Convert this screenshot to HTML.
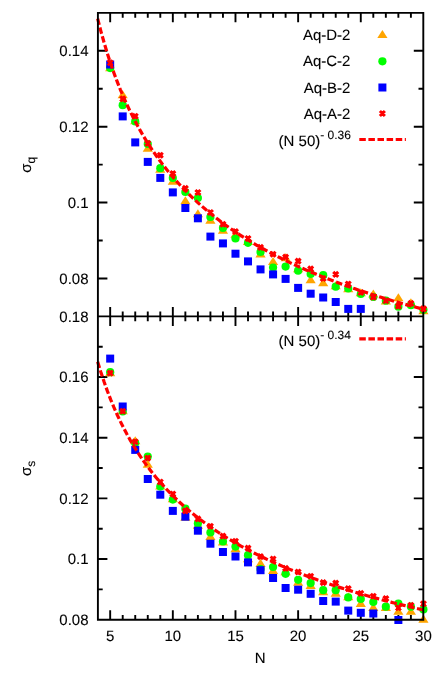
<!DOCTYPE html>
<html><head><meta charset="utf-8"><title>chart</title>
<style>html,body{margin:0;padding:0;background:#fff}svg{display:block;will-change:transform}text{font-family:"Liberation Sans",sans-serif;fill:#000;stroke:#000;stroke-width:.1px;text-rendering:geometricPrecision}</style></head><body>
<svg width="442" height="681" viewBox="0 0 442 681">
<rect width="442" height="681" fill="#fff"/>
<path d="M110.18 12.86v9.5M110.18 306.9v19.0M110.18 619.7v-9.5M122.71 12.86v4.8M122.71 311.59999999999997v9.6M122.71 619.7v-4.8M135.24 12.86v4.8M135.24 311.59999999999997v9.6M135.24 619.7v-4.8M147.77 12.86v4.8M147.77 311.59999999999997v9.6M147.77 619.7v-4.8M160.30 12.86v4.8M160.30 311.59999999999997v9.6M160.30 619.7v-4.8M172.83 12.86v9.5M172.83 306.9v19.0M172.83 619.7v-9.5M185.36 12.86v4.8M185.36 311.59999999999997v9.6M185.36 619.7v-4.8M197.89 12.86v4.8M197.89 311.59999999999997v9.6M197.89 619.7v-4.8M210.42 12.86v4.8M210.42 311.59999999999997v9.6M210.42 619.7v-4.8M222.95 12.86v4.8M222.95 311.59999999999997v9.6M222.95 619.7v-4.8M235.48 12.86v9.5M235.48 306.9v19.0M235.48 619.7v-9.5M248.01 12.86v4.8M248.01 311.59999999999997v9.6M248.01 619.7v-4.8M260.54 12.86v4.8M260.54 311.59999999999997v9.6M260.54 619.7v-4.8M273.07 12.86v4.8M273.07 311.59999999999997v9.6M273.07 619.7v-4.8M285.60 12.86v4.8M285.60 311.59999999999997v9.6M285.60 619.7v-4.8M298.13 12.86v9.5M298.13 306.9v19.0M298.13 619.7v-9.5M310.66 12.86v4.8M310.66 311.59999999999997v9.6M310.66 619.7v-4.8M323.19 12.86v4.8M323.19 311.59999999999997v9.6M323.19 619.7v-4.8M335.72 12.86v4.8M335.72 311.59999999999997v9.6M335.72 619.7v-4.8M348.25 12.86v4.8M348.25 311.59999999999997v9.6M348.25 619.7v-4.8M360.78 12.86v9.5M360.78 306.9v19.0M360.78 619.7v-9.5M373.31 12.86v4.8M373.31 311.59999999999997v9.6M373.31 619.7v-4.8M385.84 12.86v4.8M385.84 311.59999999999997v9.6M385.84 619.7v-4.8M398.37 12.86v4.8M398.37 311.59999999999997v9.6M398.37 619.7v-4.8M410.90 12.86v4.8M410.90 311.59999999999997v9.6M410.90 619.7v-4.8M97.9 278.46h9.5M423.3 278.46h-9.5M97.9 240.51h4.8M423.3 240.51h-4.8M97.9 202.57h9.5M423.3 202.57h-9.5M97.9 164.63h4.8M423.3 164.63h-4.8M97.9 126.69h9.5M423.3 126.69h-9.5M97.9 88.74h4.8M423.3 88.74h-4.8M97.9 50.80h9.5M423.3 50.80h-9.5M97.9 589.37h4.8M423.3 589.37h-4.8M97.9 559.04h9.5M423.3 559.04h-9.5M97.9 528.71h4.8M423.3 528.71h-4.8M97.9 498.38h9.5M423.3 498.38h-9.5M97.9 468.05h4.8M423.3 468.05h-4.8M97.9 437.72h9.5M423.3 437.72h-9.5M97.9 407.39h4.8M423.3 407.39h-4.8M97.9 377.06h9.5M423.3 377.06h-9.5M97.9 346.73h4.8M423.3 346.73h-4.8" stroke="#000" stroke-width="1.9" fill="none"/>
<path d="M110.18 63.20L115.28 71.30H105.08Z" fill="#ffa500"/>
<path d="M122.71 90.20L127.81 98.30H117.61Z" fill="#ffa500"/>
<path d="M135.24 116.20L140.34 124.30H130.14Z" fill="#ffa500"/>
<path d="M147.77 143.70L152.87 151.80H142.67Z" fill="#ffa500"/>
<path d="M160.30 164.60L165.40 172.70H155.20Z" fill="#ffa500"/>
<path d="M172.83 176.60L177.93 184.70H167.73Z" fill="#ffa500"/>
<path d="M185.36 196.20L190.46 204.30H180.26Z" fill="#ffa500"/>
<path d="M197.89 209.20L202.99 217.30H192.79Z" fill="#ffa500"/>
<path d="M210.42 215.60L215.52 223.70H205.32Z" fill="#ffa500"/>
<path d="M222.95 225.60L228.05 233.70H217.85Z" fill="#ffa500"/>
<path d="M235.48 229.70L240.58 237.80H230.38Z" fill="#ffa500"/>
<path d="M248.01 236.80L253.11 244.90H242.91Z" fill="#ffa500"/>
<path d="M260.54 249.40L265.64 257.50H255.44Z" fill="#ffa500"/>
<path d="M273.07 256.90L278.17 265.00H267.97Z" fill="#ffa500"/>
<path d="M285.60 253.20L290.70 261.30H280.50Z" fill="#ffa500"/>
<path d="M298.13 264.20L303.23 272.30H293.03Z" fill="#ffa500"/>
<path d="M310.66 275.20L315.76 283.30H305.56Z" fill="#ffa500"/>
<path d="M323.19 278.20L328.29 286.30H318.09Z" fill="#ffa500"/>
<path d="M335.72 281.20L340.82 289.30H330.62Z" fill="#ffa500"/>
<path d="M348.25 284.20L353.35 292.30H343.15Z" fill="#ffa500"/>
<path d="M360.78 288.20L365.88 296.30H355.68Z" fill="#ffa500"/>
<path d="M373.31 289.40L378.41 297.50H368.21Z" fill="#ffa500"/>
<path d="M385.84 296.50L390.94 304.60H380.74Z" fill="#ffa500"/>
<path d="M398.37 293.20L403.47 301.30H393.27Z" fill="#ffa500"/>
<path d="M410.90 298.20L416.00 306.30H405.80Z" fill="#ffa500"/>
<path d="M423.43 306.20L428.53 314.30H418.33Z" fill="#ffa500"/>
<circle cx="110.18" cy="68.10" r="4.1" fill="#00ff00"/>
<circle cx="122.71" cy="105.20" r="4.1" fill="#00ff00"/>
<circle cx="135.24" cy="121.40" r="4.1" fill="#00ff00"/>
<circle cx="147.77" cy="144.00" r="4.1" fill="#00ff00"/>
<circle cx="160.30" cy="168.20" r="4.1" fill="#00ff00"/>
<circle cx="172.83" cy="178.00" r="4.1" fill="#00ff00"/>
<circle cx="185.36" cy="192.00" r="4.1" fill="#00ff00"/>
<circle cx="197.89" cy="198.00" r="4.1" fill="#00ff00"/>
<circle cx="210.42" cy="217.00" r="4.1" fill="#00ff00"/>
<circle cx="222.95" cy="228.00" r="4.1" fill="#00ff00"/>
<circle cx="235.48" cy="238.50" r="4.1" fill="#00ff00"/>
<circle cx="248.01" cy="242.80" r="4.1" fill="#00ff00"/>
<circle cx="260.54" cy="252.00" r="4.1" fill="#00ff00"/>
<circle cx="273.07" cy="267.60" r="4.1" fill="#00ff00"/>
<circle cx="285.60" cy="266.60" r="4.1" fill="#00ff00"/>
<circle cx="298.13" cy="270.70" r="4.1" fill="#00ff00"/>
<circle cx="310.66" cy="274.00" r="4.1" fill="#00ff00"/>
<circle cx="323.19" cy="275.20" r="4.1" fill="#00ff00"/>
<circle cx="335.72" cy="286.70" r="4.1" fill="#00ff00"/>
<circle cx="348.25" cy="288.50" r="4.1" fill="#00ff00"/>
<circle cx="360.78" cy="294.00" r="4.1" fill="#00ff00"/>
<circle cx="373.31" cy="297.00" r="4.1" fill="#00ff00"/>
<circle cx="385.84" cy="300.70" r="4.1" fill="#00ff00"/>
<circle cx="398.37" cy="306.70" r="4.1" fill="#00ff00"/>
<circle cx="410.90" cy="305.20" r="4.1" fill="#00ff00"/>
<circle cx="423.43" cy="309.80" r="4.1" fill="#00ff00"/>
<rect x="106.18" y="60.50" width="8" height="8" fill="#0000ff"/>
<rect x="118.71" y="112.40" width="8" height="8" fill="#0000ff"/>
<rect x="131.24" y="138.40" width="8" height="8" fill="#0000ff"/>
<rect x="143.77" y="157.90" width="8" height="8" fill="#0000ff"/>
<rect x="156.30" y="173.90" width="8" height="8" fill="#0000ff"/>
<rect x="168.83" y="188.40" width="8" height="8" fill="#0000ff"/>
<rect x="181.36" y="204.00" width="8" height="8" fill="#0000ff"/>
<rect x="193.89" y="214.30" width="8" height="8" fill="#0000ff"/>
<rect x="206.42" y="232.60" width="8" height="8" fill="#0000ff"/>
<rect x="218.95" y="239.40" width="8" height="8" fill="#0000ff"/>
<rect x="231.48" y="249.70" width="8" height="8" fill="#0000ff"/>
<rect x="244.01" y="257.40" width="8" height="8" fill="#0000ff"/>
<rect x="256.54" y="265.40" width="8" height="8" fill="#0000ff"/>
<rect x="269.07" y="270.40" width="8" height="8" fill="#0000ff"/>
<rect x="281.60" y="274.90" width="8" height="8" fill="#0000ff"/>
<rect x="294.13" y="283.90" width="8" height="8" fill="#0000ff"/>
<rect x="306.66" y="289.70" width="8" height="8" fill="#0000ff"/>
<rect x="319.19" y="293.50" width="8" height="8" fill="#0000ff"/>
<rect x="331.72" y="298.00" width="8" height="8" fill="#0000ff"/>
<rect x="344.25" y="304.90" width="8" height="8" fill="#0000ff"/>
<rect x="356.78" y="304.90" width="8" height="8" fill="#0000ff"/>
<path d="M107.68 62.70h5.0M110.18 60.20v5.0M107.68 60.20l5.0 5.0M107.68 65.20l5.0 -5.0" stroke="#ff0000" stroke-width="3" fill="none"/>
<path d="M120.21 98.90h5.0M122.71 96.40v5.0M120.21 96.40l5.0 5.0M120.21 101.40l5.0 -5.0" stroke="#ff0000" stroke-width="3" fill="none"/>
<path d="M132.74 116.20h5.0M135.24 113.70v5.0M132.74 113.70l5.0 5.0M132.74 118.70l5.0 -5.0" stroke="#ff0000" stroke-width="3" fill="none"/>
<path d="M145.27 143.40h5.0M147.77 140.90v5.0M145.27 140.90l5.0 5.0M145.27 145.90l5.0 -5.0" stroke="#ff0000" stroke-width="3" fill="none"/>
<path d="M157.80 155.30h5.0M160.30 152.80v5.0M157.80 152.80l5.0 5.0M157.80 157.80l5.0 -5.0" stroke="#ff0000" stroke-width="3" fill="none"/>
<path d="M170.33 173.60h5.0M172.83 171.10v5.0M170.33 171.10l5.0 5.0M170.33 176.10l5.0 -5.0" stroke="#ff0000" stroke-width="3" fill="none"/>
<path d="M182.86 188.40h5.0M185.36 185.90v5.0M182.86 185.90l5.0 5.0M182.86 190.90l5.0 -5.0" stroke="#ff0000" stroke-width="3" fill="none"/>
<path d="M195.39 192.50h5.0M197.89 190.00v5.0M195.39 190.00l5.0 5.0M195.39 195.00l5.0 -5.0" stroke="#ff0000" stroke-width="3" fill="none"/>
<path d="M207.92 212.50h5.0M210.42 210.00v5.0M207.92 210.00l5.0 5.0M207.92 215.00l5.0 -5.0" stroke="#ff0000" stroke-width="3" fill="none"/>
<path d="M220.45 224.30h5.0M222.95 221.80v5.0M220.45 221.80l5.0 5.0M220.45 226.80l5.0 -5.0" stroke="#ff0000" stroke-width="3" fill="none"/>
<path d="M232.98 231.60h5.0M235.48 229.10v5.0M232.98 229.10l5.0 5.0M232.98 234.10l5.0 -5.0" stroke="#ff0000" stroke-width="3" fill="none"/>
<path d="M245.51 238.50h5.0M248.01 236.00v5.0M245.51 236.00l5.0 5.0M245.51 241.00l5.0 -5.0" stroke="#ff0000" stroke-width="3" fill="none"/>
<path d="M258.04 247.40h5.0M260.54 244.90v5.0M258.04 244.90l5.0 5.0M258.04 249.90l5.0 -5.0" stroke="#ff0000" stroke-width="3" fill="none"/>
<path d="M270.57 254.20h5.0M273.07 251.70v5.0M270.57 251.70l5.0 5.0M270.57 256.70l5.0 -5.0" stroke="#ff0000" stroke-width="3" fill="none"/>
<path d="M283.10 257.10h5.0M285.60 254.60v5.0M283.10 254.60l5.0 5.0M283.10 259.60l5.0 -5.0" stroke="#ff0000" stroke-width="3" fill="none"/>
<path d="M295.63 261.10h5.0M298.13 258.60v5.0M295.63 258.60l5.0 5.0M295.63 263.60l5.0 -5.0" stroke="#ff0000" stroke-width="3" fill="none"/>
<path d="M308.16 268.90h5.0M310.66 266.40v5.0M308.16 266.40l5.0 5.0M308.16 271.40l5.0 -5.0" stroke="#ff0000" stroke-width="3" fill="none"/>
<path d="M320.69 278.50h5.0M323.19 276.00v5.0M320.69 276.00l5.0 5.0M320.69 281.00l5.0 -5.0" stroke="#ff0000" stroke-width="3" fill="none"/>
<path d="M333.22 274.40h5.0M335.72 271.90v5.0M333.22 271.90l5.0 5.0M333.22 276.90l5.0 -5.0" stroke="#ff0000" stroke-width="3" fill="none"/>
<path d="M345.75 284.00h5.0M348.25 281.50v5.0M345.75 281.50l5.0 5.0M345.75 286.50l5.0 -5.0" stroke="#ff0000" stroke-width="3" fill="none"/>
<path d="M358.28 292.50h5.0M360.78 290.00v5.0M358.28 290.00l5.0 5.0M358.28 295.00l5.0 -5.0" stroke="#ff0000" stroke-width="3" fill="none"/>
<path d="M370.81 297.20h5.0M373.31 294.70v5.0M370.81 294.70l5.0 5.0M370.81 299.70l5.0 -5.0" stroke="#ff0000" stroke-width="3" fill="none"/>
<path d="M383.34 300.70h5.0M385.84 298.20v5.0M383.34 298.20l5.0 5.0M383.34 303.20l5.0 -5.0" stroke="#ff0000" stroke-width="3" fill="none"/>
<path d="M395.87 306.20h5.0M398.37 303.70v5.0M395.87 303.70l5.0 5.0M395.87 308.70l5.0 -5.0" stroke="#ff0000" stroke-width="3" fill="none"/>
<path d="M408.40 303.40h5.0M410.90 300.90v5.0M408.40 300.90l5.0 5.0M408.40 305.90l5.0 -5.0" stroke="#ff0000" stroke-width="3" fill="none"/>
<path d="M420.93 308.90h5.0M423.43 306.40v5.0M420.93 306.40l5.0 5.0M420.93 311.40l5.0 -5.0" stroke="#ff0000" stroke-width="3" fill="none"/>
<polyline points="97.65,18.68 100.91,31.30 104.17,42.93 107.42,53.67 110.68,63.65 113.94,72.95 117.20,81.65 120.45,89.82 123.71,97.50 126.97,104.75 130.23,111.60 133.49,118.10 136.74,124.27 140.00,130.15 143.26,135.74 146.52,141.09 149.77,146.20 153.03,151.09 156.29,155.78 159.55,160.29 162.81,164.62 166.06,168.78 169.32,172.80 172.58,176.67 175.84,180.40 179.09,184.01 182.35,187.50 185.61,190.88 188.87,194.15 192.13,197.31 195.38,200.39 198.64,203.37 201.90,206.27 205.16,209.08 208.42,211.82 211.67,214.48 214.93,217.07 218.19,219.59 221.45,222.05 224.70,224.45 227.96,226.79 231.22,229.07 234.48,231.29 237.74,233.47 240.99,235.59 244.25,237.67 247.51,239.70 250.77,241.68 254.02,243.63 257.28,245.53 260.54,247.39 263.80,249.21 267.06,251.00 270.31,252.75 273.57,254.47 276.83,256.15 280.09,257.80 283.34,259.42 286.60,261.01 289.86,262.57 293.12,264.10 296.38,265.61 299.63,267.08 302.89,268.54 306.15,269.96 309.41,271.37 312.66,272.75 315.92,274.10 319.18,275.44 322.44,276.75 325.70,278.04 328.95,279.31 332.21,280.57 335.47,281.80 338.73,283.01 341.99,284.21 345.24,285.38 348.50,286.54 351.76,287.69 355.02,288.81 358.27,289.92 361.53,291.02 364.79,292.10 368.05,293.16 371.31,294.21 374.56,295.25 377.82,296.27 381.08,297.27 384.34,298.27 387.59,299.25 390.85,300.22 394.11,301.18 397.37,302.12 400.63,303.05 403.88,303.97 407.14,304.88 410.40,305.78 413.66,306.67 416.91,307.55 420.17,308.41 423.43,309.27" fill="none" stroke="#f00" stroke-width="3.2" stroke-dasharray="6.5 2.6"/>
<path d="M110.18 368.20L115.28 376.30H105.08Z" fill="#ffa500"/>
<path d="M122.71 406.20L127.81 414.30H117.61Z" fill="#ffa500"/>
<path d="M135.24 436.20L140.34 444.30H130.14Z" fill="#ffa500"/>
<path d="M147.77 459.70L152.87 467.80H142.67Z" fill="#ffa500"/>
<path d="M160.30 481.50L165.40 489.60H155.20Z" fill="#ffa500"/>
<path d="M172.83 494.20L177.93 502.30H167.73Z" fill="#ffa500"/>
<path d="M185.36 512.60L190.46 520.70H180.26Z" fill="#ffa500"/>
<path d="M197.89 520.70L202.99 528.80H192.79Z" fill="#ffa500"/>
<path d="M210.42 531.90L215.52 540.00H205.32Z" fill="#ffa500"/>
<path d="M222.95 537.40L228.05 545.50H217.85Z" fill="#ffa500"/>
<path d="M235.48 544.20L240.58 552.30H230.38Z" fill="#ffa500"/>
<path d="M248.01 554.20L253.11 562.30H242.91Z" fill="#ffa500"/>
<path d="M260.54 558.80L265.64 566.90H255.44Z" fill="#ffa500"/>
<path d="M273.07 566.00L278.17 574.10H267.97Z" fill="#ffa500"/>
<path d="M285.60 567.20L290.70 575.30H280.50Z" fill="#ffa500"/>
<path d="M298.13 577.70L303.23 585.80H293.03Z" fill="#ffa500"/>
<path d="M310.66 580.80L315.76 588.90H305.56Z" fill="#ffa500"/>
<path d="M323.19 587.10L328.29 595.20H318.09Z" fill="#ffa500"/>
<path d="M335.72 588.60L340.82 596.70H330.62Z" fill="#ffa500"/>
<path d="M348.25 592.20L353.35 600.30H343.15Z" fill="#ffa500"/>
<path d="M360.78 598.80L365.88 606.90H355.68Z" fill="#ffa500"/>
<path d="M373.31 603.00L378.41 611.10H368.21Z" fill="#ffa500"/>
<path d="M385.84 603.00L390.94 611.10H380.74Z" fill="#ffa500"/>
<path d="M398.37 606.70L403.47 614.80H393.27Z" fill="#ffa500"/>
<path d="M410.90 606.70L416.00 614.80H405.80Z" fill="#ffa500"/>
<path d="M423.43 614.60L428.53 622.70H418.33Z" fill="#ffa500"/>
<circle cx="110.18" cy="372.20" r="4.1" fill="#00ff00"/>
<circle cx="122.71" cy="411.50" r="4.1" fill="#00ff00"/>
<circle cx="135.24" cy="443.00" r="4.1" fill="#00ff00"/>
<circle cx="147.77" cy="456.60" r="4.1" fill="#00ff00"/>
<circle cx="160.30" cy="486.60" r="4.1" fill="#00ff00"/>
<circle cx="172.83" cy="499.60" r="4.1" fill="#00ff00"/>
<circle cx="185.36" cy="508.70" r="4.1" fill="#00ff00"/>
<circle cx="197.89" cy="523.40" r="4.1" fill="#00ff00"/>
<circle cx="210.42" cy="532.50" r="4.1" fill="#00ff00"/>
<circle cx="222.95" cy="541.50" r="4.1" fill="#00ff00"/>
<circle cx="235.48" cy="546.60" r="4.1" fill="#00ff00"/>
<circle cx="248.01" cy="555.20" r="4.1" fill="#00ff00"/>
<circle cx="260.54" cy="569.00" r="4.1" fill="#00ff00"/>
<circle cx="273.07" cy="567.00" r="4.1" fill="#00ff00"/>
<circle cx="285.60" cy="573.80" r="4.1" fill="#00ff00"/>
<circle cx="298.13" cy="579.80" r="4.1" fill="#00ff00"/>
<circle cx="310.66" cy="583.10" r="4.1" fill="#00ff00"/>
<circle cx="323.19" cy="590.20" r="4.1" fill="#00ff00"/>
<circle cx="335.72" cy="590.20" r="4.1" fill="#00ff00"/>
<circle cx="348.25" cy="597.40" r="4.1" fill="#00ff00"/>
<circle cx="360.78" cy="599.00" r="4.1" fill="#00ff00"/>
<circle cx="373.31" cy="602.00" r="4.1" fill="#00ff00"/>
<circle cx="385.84" cy="606.70" r="4.1" fill="#00ff00"/>
<circle cx="398.37" cy="603.70" r="4.1" fill="#00ff00"/>
<circle cx="410.90" cy="606.70" r="4.1" fill="#00ff00"/>
<circle cx="423.43" cy="609.40" r="4.1" fill="#00ff00"/>
<rect x="106.18" y="354.60" width="8" height="8" fill="#0000ff"/>
<rect x="118.71" y="402.50" width="8" height="8" fill="#0000ff"/>
<rect x="131.24" y="445.90" width="8" height="8" fill="#0000ff"/>
<rect x="143.77" y="475.00" width="8" height="8" fill="#0000ff"/>
<rect x="156.30" y="490.70" width="8" height="8" fill="#0000ff"/>
<rect x="168.83" y="506.90" width="8" height="8" fill="#0000ff"/>
<rect x="181.36" y="512.70" width="8" height="8" fill="#0000ff"/>
<rect x="193.89" y="526.70" width="8" height="8" fill="#0000ff"/>
<rect x="206.42" y="539.70" width="8" height="8" fill="#0000ff"/>
<rect x="218.95" y="548.00" width="8" height="8" fill="#0000ff"/>
<rect x="231.48" y="552.50" width="8" height="8" fill="#0000ff"/>
<rect x="244.01" y="558.40" width="8" height="8" fill="#0000ff"/>
<rect x="256.54" y="566.20" width="8" height="8" fill="#0000ff"/>
<rect x="269.07" y="574.00" width="8" height="8" fill="#0000ff"/>
<rect x="281.60" y="584.00" width="8" height="8" fill="#0000ff"/>
<rect x="294.13" y="585.70" width="8" height="8" fill="#0000ff"/>
<rect x="306.66" y="589.80" width="8" height="8" fill="#0000ff"/>
<rect x="319.19" y="597.00" width="8" height="8" fill="#0000ff"/>
<rect x="331.72" y="597.60" width="8" height="8" fill="#0000ff"/>
<rect x="344.25" y="606.60" width="8" height="8" fill="#0000ff"/>
<rect x="356.78" y="608.80" width="8" height="8" fill="#0000ff"/>
<rect x="369.31" y="609.50" width="8" height="8" fill="#0000ff"/>
<rect x="394.37" y="616.00" width="8" height="8" fill="#0000ff"/>
<path d="M107.68 373.10h5.0M110.18 370.60v5.0M107.68 370.60l5.0 5.0M107.68 375.60l5.0 -5.0" stroke="#ff0000" stroke-width="3" fill="none"/>
<path d="M120.21 411.20h5.0M122.71 408.70v5.0M120.21 408.70l5.0 5.0M120.21 413.70l5.0 -5.0" stroke="#ff0000" stroke-width="3" fill="none"/>
<path d="M132.74 441.70h5.0M135.24 439.20v5.0M132.74 439.20l5.0 5.0M132.74 444.20l5.0 -5.0" stroke="#ff0000" stroke-width="3" fill="none"/>
<path d="M145.27 458.10h5.0M147.77 455.60v5.0M145.27 455.60l5.0 5.0M145.27 460.60l5.0 -5.0" stroke="#ff0000" stroke-width="3" fill="none"/>
<path d="M157.80 482.00h5.0M160.30 479.50v5.0M157.80 479.50l5.0 5.0M157.80 484.50l5.0 -5.0" stroke="#ff0000" stroke-width="3" fill="none"/>
<path d="M170.33 494.00h5.0M172.83 491.50v5.0M170.33 491.50l5.0 5.0M170.33 496.50l5.0 -5.0" stroke="#ff0000" stroke-width="3" fill="none"/>
<path d="M182.86 510.90h5.0M185.36 508.40v5.0M182.86 508.40l5.0 5.0M182.86 513.40l5.0 -5.0" stroke="#ff0000" stroke-width="3" fill="none"/>
<path d="M195.39 518.90h5.0M197.89 516.40v5.0M195.39 516.40l5.0 5.0M195.39 521.40l5.0 -5.0" stroke="#ff0000" stroke-width="3" fill="none"/>
<path d="M207.92 526.20h5.0M210.42 523.70v5.0M207.92 523.70l5.0 5.0M207.92 528.70l5.0 -5.0" stroke="#ff0000" stroke-width="3" fill="none"/>
<path d="M220.45 536.10h5.0M222.95 533.60v5.0M220.45 533.60l5.0 5.0M220.45 538.60l5.0 -5.0" stroke="#ff0000" stroke-width="3" fill="none"/>
<path d="M232.98 541.30h5.0M235.48 538.80v5.0M232.98 538.80l5.0 5.0M232.98 543.80l5.0 -5.0" stroke="#ff0000" stroke-width="3" fill="none"/>
<path d="M245.51 548.10h5.0M248.01 545.60v5.0M245.51 545.60l5.0 5.0M245.51 550.60l5.0 -5.0" stroke="#ff0000" stroke-width="3" fill="none"/>
<path d="M258.04 556.60h5.0M260.54 554.10v5.0M258.04 554.10l5.0 5.0M258.04 559.10l5.0 -5.0" stroke="#ff0000" stroke-width="3" fill="none"/>
<path d="M270.57 559.00h5.0M273.07 556.50v5.0M270.57 556.50l5.0 5.0M270.57 561.50l5.0 -5.0" stroke="#ff0000" stroke-width="3" fill="none"/>
<path d="M283.10 568.40h5.0M285.60 565.90v5.0M283.10 565.90l5.0 5.0M283.10 570.90l5.0 -5.0" stroke="#ff0000" stroke-width="3" fill="none"/>
<path d="M295.63 572.00h5.0M298.13 569.50v5.0M295.63 569.50l5.0 5.0M295.63 574.50l5.0 -5.0" stroke="#ff0000" stroke-width="3" fill="none"/>
<path d="M308.16 576.20h5.0M310.66 573.70v5.0M308.16 573.70l5.0 5.0M308.16 578.70l5.0 -5.0" stroke="#ff0000" stroke-width="3" fill="none"/>
<path d="M320.69 582.60h5.0M323.19 580.10v5.0M320.69 580.10l5.0 5.0M320.69 585.10l5.0 -5.0" stroke="#ff0000" stroke-width="3" fill="none"/>
<path d="M333.22 583.10h5.0M335.72 580.60v5.0M333.22 580.60l5.0 5.0M333.22 585.60l5.0 -5.0" stroke="#ff0000" stroke-width="3" fill="none"/>
<path d="M345.75 588.60h5.0M348.25 586.10v5.0M345.75 586.10l5.0 5.0M345.75 591.10l5.0 -5.0" stroke="#ff0000" stroke-width="3" fill="none"/>
<path d="M358.28 593.40h5.0M360.78 590.90v5.0M358.28 590.90l5.0 5.0M358.28 595.90l5.0 -5.0" stroke="#ff0000" stroke-width="3" fill="none"/>
<path d="M370.81 596.20h5.0M373.31 593.70v5.0M370.81 593.70l5.0 5.0M370.81 598.70l5.0 -5.0" stroke="#ff0000" stroke-width="3" fill="none"/>
<path d="M383.34 598.60h5.0M385.84 596.10v5.0M383.34 596.10l5.0 5.0M383.34 601.10l5.0 -5.0" stroke="#ff0000" stroke-width="3" fill="none"/>
<path d="M395.87 607.80h5.0M398.37 605.30v5.0M395.87 605.30l5.0 5.0M395.87 610.30l5.0 -5.0" stroke="#ff0000" stroke-width="3" fill="none"/>
<path d="M408.40 605.30h5.0M410.90 602.80v5.0M408.40 602.80l5.0 5.0M408.40 607.80l5.0 -5.0" stroke="#ff0000" stroke-width="3" fill="none"/>
<path d="M420.93 603.70h5.0M423.43 601.20v5.0M420.93 601.20l5.0 5.0M420.93 606.20l5.0 -5.0" stroke="#ff0000" stroke-width="3" fill="none"/>
<polyline points="97.65,361.70 100.91,372.31 104.17,382.08 107.42,391.13 110.68,399.54 113.94,407.38 117.20,414.73 120.45,421.63 123.71,428.13 126.97,434.27 130.23,440.08 133.49,445.59 136.74,450.83 140.00,455.82 143.26,460.58 146.52,465.12 149.77,469.47 153.03,473.64 156.29,477.64 159.55,481.48 162.81,485.17 166.06,488.73 169.32,492.16 172.58,495.46 175.84,498.66 179.09,501.75 182.35,504.73 185.61,507.62 188.87,510.43 192.13,513.14 195.38,515.78 198.64,518.34 201.90,520.82 205.16,523.24 208.42,525.59 211.67,527.88 214.93,530.10 218.19,532.27 221.45,534.39 224.70,536.45 227.96,538.46 231.22,540.43 234.48,542.35 237.74,544.22 240.99,546.05 244.25,547.84 247.51,549.59 250.77,551.31 254.02,552.98 257.28,554.63 260.54,556.24 263.80,557.81 267.06,559.36 270.31,560.87 273.57,562.35 276.83,563.81 280.09,565.24 283.34,566.64 286.60,568.02 289.86,569.37 293.12,570.69 296.38,572.00 299.63,573.28 302.89,574.54 306.15,575.78 309.41,576.99 312.66,578.19 315.92,579.37 319.18,580.53 322.44,581.67 325.70,582.79 328.95,583.89 332.21,584.98 335.47,586.05 338.73,587.11 341.99,588.14 345.24,589.17 348.50,590.18 351.76,591.17 355.02,592.15 358.27,593.12 361.53,594.07 364.79,595.01 368.05,595.94 371.31,596.85 374.56,597.76 377.82,598.65 381.08,599.52 384.34,600.39 387.59,601.25 390.85,602.09 394.11,602.93 397.37,603.75 400.63,604.56 403.88,605.37 407.14,606.16 410.40,606.95 413.66,607.72 416.91,608.49 420.17,609.24 423.43,609.99" fill="none" stroke="#f00" stroke-width="3.2" stroke-dasharray="6.5 2.6"/>
<path d="M382.40 29.90L387.50 38.00H377.30Z" fill="#ffa500"/>
<circle cx="382.40" cy="61.30" r="4.1" fill="#00ff00"/>
<rect x="378.40" y="83.50" width="8" height="8" fill="#0000ff"/>
<path d="M379.90 113.50h5.0M382.40 111.00v5.0M379.90 111.00l5.0 5.0M379.90 116.00l5.0 -5.0" stroke="#ff0000" stroke-width="3" fill="none"/>
<path d="M359.3 139.5H405.9" stroke="#f00" stroke-width="3.2" stroke-dasharray="6.5 2.6"/>
<path d="M359.3 338.9H405.9" stroke="#f00" stroke-width="3.2" stroke-dasharray="6.5 2.6"/>
<path d="M97.9 12.86H423.3V619.7H97.9ZM97.9 316.4H423.3" stroke="#000" stroke-width="1.9" fill="none" stroke-linejoin="miter"/>
<path d="M420.93 308.90h5.0M423.43 306.40v5.0M420.93 306.40l5.0 5.0M420.93 311.40l5.0 -5.0" stroke="#ff0000" stroke-width="3" fill="none"/>
<text x="88.5" y="56.2" font-size="15" text-anchor="end" >0.14</text>
<text x="88.5" y="132.09" font-size="15" text-anchor="end" >0.12</text>
<text x="88.5" y="207.97" font-size="15" text-anchor="end" >0.1</text>
<text x="88.5" y="283.86" font-size="15" text-anchor="end" >0.08</text>
<text x="88.5" y="321.8" font-size="15" text-anchor="end" >0.18</text>
<text x="88.5" y="382.46" font-size="15" text-anchor="end" >0.16</text>
<text x="88.5" y="443.12" font-size="15" text-anchor="end" >0.14</text>
<text x="88.5" y="503.78" font-size="15" text-anchor="end" >0.12</text>
<text x="88.5" y="564.44" font-size="15" text-anchor="end" >0.1</text>
<text x="88.5" y="625.1" font-size="15" text-anchor="end" >0.08</text>
<text x="110.18" y="641.1" font-size="15" text-anchor="middle" >5</text>
<text x="172.83" y="641.1" font-size="15" text-anchor="middle" >10</text>
<text x="235.48" y="641.1" font-size="15" text-anchor="middle" >15</text>
<text x="298.13" y="641.1" font-size="15" text-anchor="middle" >20</text>
<text x="360.78" y="641.1" font-size="15" text-anchor="middle" >25</text>
<text x="423.43" y="641.1" font-size="15" text-anchor="middle" >30</text>
<text x="260.2" y="663.2" font-size="15" text-anchor="middle" >N</text>
<text x="350.4" y="40.2" font-size="15" text-anchor="end" >Aq-D-2</text>
<text x="350.4" y="66.4" font-size="15" text-anchor="end" >Aq-C-2</text>
<text x="350.4" y="92.6" font-size="15" text-anchor="end" >Aq-B-2</text>
<text x="350.4" y="118.8" font-size="15" text-anchor="end" >Aq-A-2</text>
<text x="278.6" y="145.6" font-size="15">(N 50)<tspan dy="-6.6" font-size="12">- 0.36</tspan></text>
<text x="278.6" y="345.5" font-size="15">(N 50)<tspan dy="-6.6" font-size="12">- 0.34</tspan></text>
<text transform="translate(30.7,172.7) rotate(-90)" font-size="15">σ<tspan dy="4.3" font-size="12">q</tspan></text>
<text transform="translate(30.7,476.1) rotate(-90)" font-size="15">σ<tspan dy="4.3" font-size="12">s</tspan></text>
</svg></body></html>
